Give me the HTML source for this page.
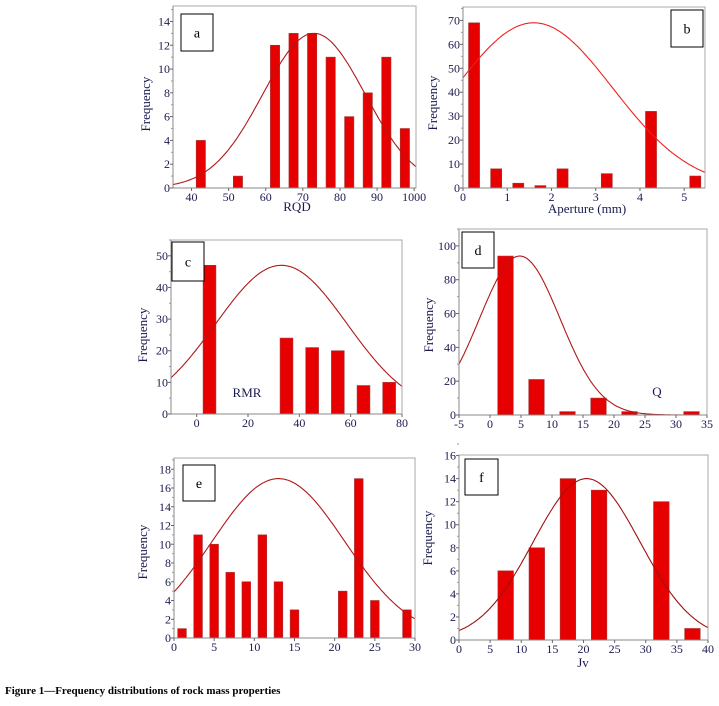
<!DOCTYPE html>
<html><head><meta charset="utf-8"><style>
body{margin:0;background:#fff;}
svg{display:block;font-family:"Liberation Serif",serif;}
</style></head><body>
<svg id="fig" width="719" height="706" viewBox="0 0 719 706"></svg>
<script>
// ---- data ----
const aCenters=[42.5,52.5,62.5,67.5,72.5,77.5,82.5,87.5,92.5,97.5];
const aValues=[4,1,12,13,13,11,6,8,11,5];
const aTicksX=[40,50,60,70,80,90,100];
const aTickLabelsX=["40","50","60","70","80","90","1000"];
const aTicksY=[0,2,4,6,8,10,12,14];
const bCenters=[0.25,0.75,1.25,1.75,2.25,3.25,4.25,5.25];
const bValues=[69,8,2,1,8,6,32,5];
const bTicksX=[0,1,2,3,4,5];
const bTicksY=[0,10,20,30,40,50,60,70];
const cCenters=[5,35,45,55,65,75];
const cValues=[47,24,21,20,9,10];
const cTicksX=[0,20,40,60,80];
const cTicksY=[0,10,20,30,40,50];
const dCenters=[2.5,7.5,12.5,17.5,22.5,32.5];
const dValues=[94,21,2,10,2,2];
const dTicksX=[-5,0,5,10,15,20,25,30,35];
const dTicksY=[0,20,40,60,80,100];
const eCenters=[1,3,5,7,9,11,13,15,21,23,25,29];
const eValues=[1,11,10,7,6,11,6,3,5,17,4,3];
const eTicksX=[0,5,10,15,20,25,30];
const eTicksY=[0,2,4,6,8,10,12,14,16,18];
const fCenters=[7.5,12.5,17.5,22.5,32.5,37.5];
const fValues=[6,8,14,13,12,1];
const fTicksX=[0,5,10,15,20,25,30,35,40];
const fTicksY=[0,2,4,6,8,10,12,14,16];
// normal fit params [peak, mean, sigma]
const aFit=[13,73,13.8], bFit=[69,1.6,1.78], cFit=[47,33,25.6], dFit=[94,4.8,6.5], eFit=[17,13,8.25], fFit=[14,20.5,8.6];

const NS="http://www.w3.org/2000/svg";
const svg=document.getElementById('fig');
function mk(tag,attrs,parent){const e=document.createElementNS(NS,tag);for(const k in attrs)e.setAttribute(k,attrs[k]);(parent||svg).appendChild(e);return e;}
function txt(s,attrs,parent){const e=mk('text',attrs,parent);e.textContent=s;return e;}

function panel(p){
  const g=mk('g',{});
  
  
  const sx=v=>p.L+(v-p.x0)/(p.x1-p.x0)*(p.R-p.L);
  const sy=v=>p.B-(v-p.y0)/(p.y1-p.y0)*(p.B-p.T);
  // bars
  p.centers.forEach((c,i)=>{
    const x=sx(c-p.bw/2), w=sx(c+p.bw/2)-x, y=sy(p.values[i]);
    const r=mk('rect',{x:x,y:y,width:w,height:p.B-y,fill:'#e60000',stroke:'#a33',"stroke-width":0.6},g);
    
    
  });
  // curve
  let d='';
  for(let k=0;k<=200;k++){const v=p.x0+(p.x1-p.x0)*k/200;const f=p.fit[0]*Math.exp(-Math.pow(v-p.fit[1],2)/(2*p.fit[2]*p.fit[2]));d+=(k?'L':'M')+sx(v).toFixed(1)+' '+sy(f).toFixed(1);}
  const cu=mk('path',{d:d,fill:'none',stroke:p.cc,"stroke-width":1.1},g);
  
  
  // frame
  const fr=mk('rect',{x:p.L,y:p.T,width:p.R-p.L,height:p.B-p.T,fill:'none',stroke:'#aaa',"stroke-width":1},g);
  
  
  mk('line',{x1:p.L,y1:p.B,x2:p.R,y2:p.B,stroke:'#888'},g);
  mk('line',{x1:p.L,y1:p.T,x2:p.L,y2:p.B,stroke:'#888'},g);
  // ticks
  p.ticksX.forEach((t,i)=>{
    const x=sx(t);
    mk('line',{x1:x,y1:p.B,x2:x,y2:p.B+3,stroke:'#666'},g);
    const l=txt(p.tlx?p.tlx[i]:String(t),{x:x,y:p.B+13,"text-anchor":"middle","font-size":12,fill:'#1a1a50'},g);
    
    
  });
  const st=p.ticksY[1]-p.ticksY[0];
  p.ticksY.forEach(t=>{
    const y=sy(t);
    mk('line',{x1:p.L-3,y1:y,x2:p.L,y2:y,stroke:'#666'},g);
    mk('line',{x1:p.L-2,y1:sy(t+st/2),x2:p.L,y2:sy(t+st/2),stroke:'#999'},g);
    const l=txt(String(t),{x:p.L-3,y:y+4,"text-anchor":"end","font-size":12,fill:'#1a1a50'},g);
    
    
  });
  const yl=txt('Frequency',{x:p.fx,y:p.fy,"text-anchor":"middle","font-size":13,fill:'#1a1a50',transform:`rotate(-90 ${p.fx} ${p.fy})`},g);
  
  
  if(p.xl){const xl=txt(p.xl[0],{x:p.xl[1],y:p.xl[2],"text-anchor":"middle","font-size":13,fill:'#1a1a50'},g);
    
    }
  const bx=mk('rect',{x:p.box[0],y:p.box[1],width:p.box[2],height:p.box[3],fill:'#fff',stroke:'#000',"stroke-width":1},g);
  
  
  const bl=txt(p.id,{x:p.box[0]+p.box[2]/2,y:p.box[1]+p.box[3]/2+5,"text-anchor":"middle","font-size":14,fill:'#000'},g);
  
  
}

panel({id:'a',L:173,R:416,T:6,B:188,x0:35,x1:100.5,y0:0,y1:15.3,bw:2.5,centers:aCenters,values:aValues,fit:aFit,cc:'#b01818',ticksX:aTicksX,tlx:aTickLabelsX,ticksY:aTicksY,fx:150,fy:104,xl:['RQD',297,211],box:[181,14,32,37]});
panel({id:'b',L:463,R:705,T:7,B:188,x0:0,x1:5.47,y0:0,y1:75.6,bw:0.25,centers:bCenters,values:bValues,fit:bFit,cc:'#ee2020',ticksX:bTicksX,ticksY:bTicksY,fx:437,fy:103,xl:['Aperture (mm)',587,213],box:[671,10,32,37]});
panel({id:'c',L:171,R:402,T:240,B:414,x0:-10,x1:80,y0:0,y1:55,bw:5,centers:cCenters,values:cValues,fit:cFit,cc:'#b01818',ticksX:cTicksX,ticksY:cTicksY,fx:147,fy:335,xl:['RMR',247,397],box:[172,242,32,39]});
panel({id:'d',L:459,R:707,T:229,B:415,x0:-5,x1:35,y0:0,y1:110,bw:2.5,centers:dCenters,values:dValues,fit:dFit,cc:'#b01818',ticksX:dTicksX,ticksY:dTicksY,fx:433,fy:325,xl:['Q',657,396],box:[462,232,32,36]});
panel({id:'e',L:174,R:415,T:458,B:638,x0:0,x1:30,y0:0,y1:19.2,bw:1.08,centers:eCenters,values:eValues,fit:eFit,cc:'#b01818',ticksX:eTicksX,ticksY:eTicksY,fx:147,fy:552,box:[183,465,32,36]});
panel({id:'f',L:459,R:708,T:455,B:640,x0:0,x1:40,y0:0,y1:16.05,bw:2.5,centers:fCenters,values:fValues,fit:fFit,cc:'#a01010',ticksX:fTicksX,ticksY:fTicksY,fx:432,fy:538,xl:['Jv',583,667],box:[465,459,33,36]});

const cap=txt('Figure 1—Frequency distributions of rock mass properties',{x:5,y:694,"font-size":11,"font-weight":"bold",fill:'#000'});


</script>
</body></html>
